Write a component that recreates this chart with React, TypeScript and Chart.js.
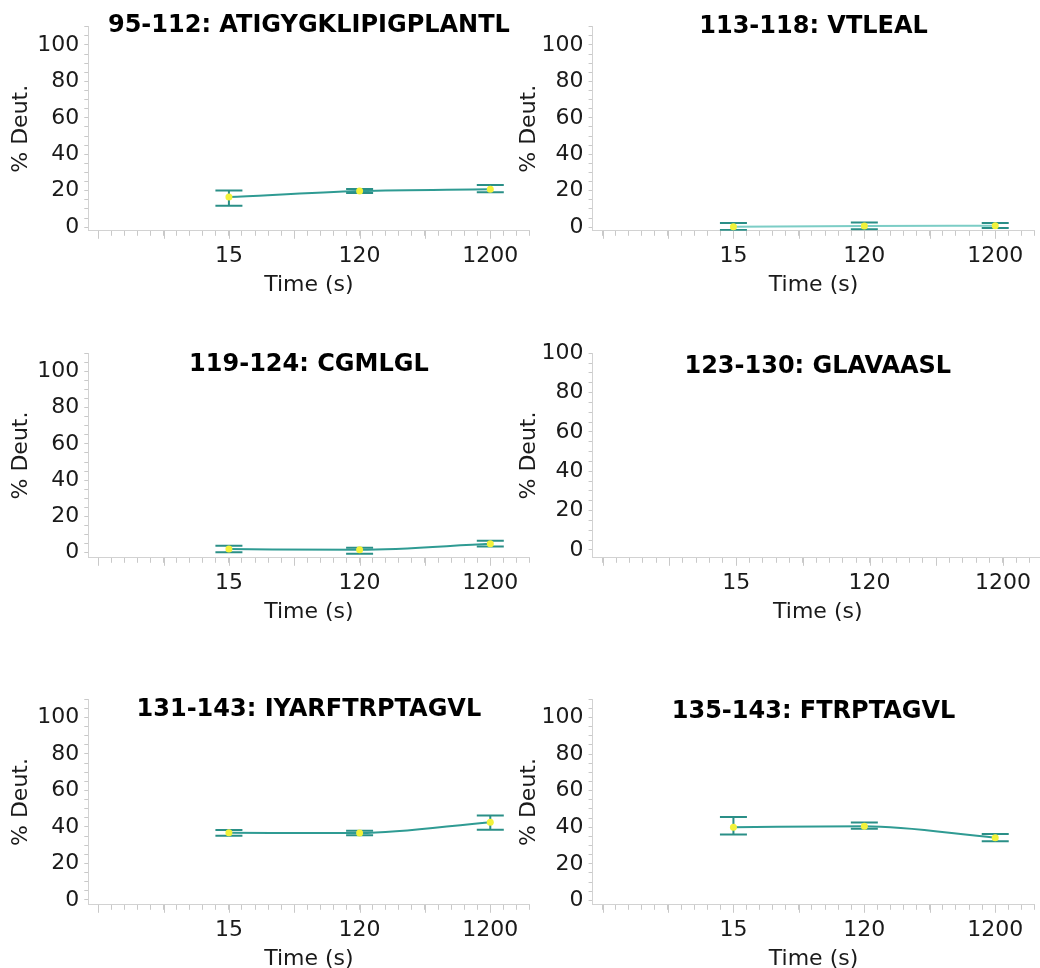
import React, { useEffect, useRef } from 'react';
import { Chart, registerables } from 'chart.js';

Chart.register(...registerables);

const FONT = 'DejaVu Sans';
const TEXT = '#1a1a1a';

// x categories (time points, evenly spaced)
const TIMES = ['15', '120', '1200'];
const Y_LABELS = [0, 20, 40, 60, 80, 100];

const TITLE_95_112 = '95-112: ATIGYGKLIPIGPLANTL';
const MEAN_95_112 = [16.5, 19.8, 20.8];
const LOW_95_112 = [11.8, 18.8, 19.2];
const HIGH_95_112 = [20.1, 21.0, 23.2];

const TITLE_113_118 = '113-118: VTLEAL';
const MEAN_113_118 = [0.2, 0.6, 0.8];
const LOW_113_118 = [-1.6, -1.1, -0.4];
const HIGH_113_118 = [2.3, 2.6, 2.3];

const TITLE_119_124 = '119-124: CGMLGL';
const MEAN_119_124 = [2.0, 1.6, 4.9];
const LOW_119_124 = [0.2, -0.5, 3.4];
const HIGH_119_124 = [3.8, 2.8, 6.6];

const TITLE_123_130 = '123-130: GLAVAASL';
const MEAN_123_130: number[] = [];
const LOW_123_130: number[] = [];
const HIGH_123_130: number[] = [];

const TITLE_131_143 = '131-143: IYARFTRPTAGVL';
const MEAN_131_143 = [36.8, 36.6, 42.6];
const LOW_131_143 = [35.2, 35.4, 38.5];
const HIGH_131_143 = [38.3, 37.9, 46.3];

const TITLE_135_143 = '135-143: FTRPTAGVL';
const MEAN_135_143 = [40.0, 40.5, 34.3];
const LOW_135_143 = [36.0, 39.2, 32.3];
const HIGH_135_143 = [45.6, 42.6, 36.3];

const PANELS = [
  { title: TITLE_95_112, mean: MEAN_95_112, low: LOW_95_112, high: HIGH_95_112 },
  { title: TITLE_113_118, mean: MEAN_113_118, low: LOW_113_118, high: HIGH_113_118 },
  { title: TITLE_119_124, mean: MEAN_119_124, low: LOW_119_124, high: HIGH_119_124 },
  { title: TITLE_123_130, mean: MEAN_123_130, low: LOW_123_130, high: HIGH_123_130 },
  { title: TITLE_131_143, mean: MEAN_131_143, low: LOW_131_143, high: HIGH_131_143 },
  { title: TITLE_135_143, mean: MEAN_135_143, low: LOW_135_143, high: HIGH_135_143 },
];

// layout of each panel (position / size / paddings / axis ranges)
const LAYOUT = [
  { left: 0, top: 0, w: 545, h: 298, tPad: [11.6, -13.7], yPad: [7.8, -1.9], yMin: -2, yMax: 110, line: '#2f9b93' },
  { left: 508, top: 0, w: 542, h: 298, tPad: [12.6, -14.7], yPad: [7.8, -5.6], yMin: -2, yMax: 110, line: '#7ccdc6' },
  { left: 0, top: 335, w: 545, h: 290, tPad: [15.6, -26.2], yPad: [7.8, -1.9], yMin: -2.8, yMax: 110, line: '#2f9b93' },
  { left: 508, top: 335, w: 542, h: 290, tPad: [17.3, -27.9], yPad: [7.8, -5.6], yMin: -4, yMax: 100, line: '#2f9b93' },
  { left: 0, top: 681, w: 545, h: 291, tPad: [14.6, -25.2], yPad: [7.8, -1.9], yMin: -2.7, yMax: 110, line: '#2f9b93' },
  { left: 508, top: 681, w: 542, h: 291, tPad: [16.3, -26.9], yPad: [7.8, -5.6], yMin: -2.4, yMax: 110, line: '#2f9b93' },
];

const BAR_COLOR = '#2a8f87';
const POINT_COLOR = '#f2f23a';
const TICK_COLOR = '#c9c9c9';

// draws the slightly longer tick marks at every half step of the x axis
const halfTicks = {
  id: 'halfTicks',
  afterDraw(chart: any) {
    const xs = chart.scales.x;
    if (!xs) return;
    const ctx = chart.ctx;
    ctx.save();
    ctx.strokeStyle = TICK_COLOR;
    ctx.lineWidth = 1;
    xs.ticks.forEach((t: any, i: number) => {
      const v = Number(t.value) * 2;
      if (Math.abs(v - Math.round(v)) > 1e-6) return;
      const px = Math.round(xs.getPixelForTick(i)) + 0.5;
      ctx.beginPath();
      ctx.moveTo(px, xs.top);
      ctx.lineTo(px, xs.top + 8);
      ctx.stroke();
    });
    ctx.restore();
  },
};

function Panel({ spec, lay }: { spec: any; lay: any }) {
  const ref = useRef<HTMLCanvasElement>(null);
  useEffect(() => {
    if (!ref.current) return;
    const datasets: any[] = [];
    if (spec.mean.length) {
      datasets.push({
        type: 'line',
        data: spec.mean.map((v: number, i: number) => ({ x: i, y: v })),
        borderColor: lay.line,
        borderWidth: 2,
        pointRadius: 3.5,
        pointBackgroundColor: POINT_COLOR,
        pointBorderWidth: 0,
        cubicInterpolationMode: 'monotone',
      });
      const stems: any[] = [];
      spec.low.forEach((lo: number, i: number) => {
        stems.push({ x: i, y: lo }, { x: i, y: spec.high[i] }, { x: i, y: null });
      });
      datasets.push({
        type: 'line',
        data: stems,
        borderColor: BAR_COLOR,
        borderWidth: 2,
        pointRadius: 0,
        spanGaps: false,
      });
      const caps = [
        ...spec.low.map((v: number, i: number) => ({ x: i, y: v })),
        ...spec.high.map((v: number, i: number) => ({ x: i, y: v })),
      ];
      datasets.push({
        type: 'scatter',
        data: caps,
        pointStyle: 'line',
        pointRadius: 13.5,
        pointBorderColor: BAR_COLOR,
        pointBorderWidth: 2,
        borderColor: BAR_COLOR,
        showLine: false,
      });
    }
    const chart = new Chart(ref.current, {
      type: 'line',
      data: { datasets },
      plugins: [halfTicks],
      options: {
        animation: false,
        responsive: false,
        maintainAspectRatio: false,
        events: [],
        layout: { padding: 0 },
        plugins: {
          legend: { display: false },
          tooltip: { enabled: false },
          title: {
            display: true,
            text: spec.title,
            fullSize: false,
            color: '#000',
            font: { family: FONT, size: 24, weight: 'bold' },
            padding: { top: lay.tPad[0], bottom: lay.tPad[1] },
          },
        },
        scales: {
          x: {
            type: 'linear',
            min: -1.076,
            max: 2.3,
            ticks: {
              stepSize: 0.1,
              includeBounds: false,
              autoSkip: false,
              maxRotation: 0,
              minRotation: 0,
              padding: 7,
              color: TEXT,
              font: { family: FONT, size: 22 },
              callback: (v: any) => {
                const n = Number(v);
                const i = Math.round(n);
                return Math.abs(n - i) < 1e-6 && i >= 0 && i < TIMES.length ? TIMES[i] : '';
              },
            },
            grid: { display: true, drawOnChartArea: false, drawTicks: true, tickLength: 5, tickColor: TICK_COLOR },
            border: { display: true, color: '#d2d2d2', width: 1 },
            title: {
              display: true,
              text: 'Time (s)',
              color: TEXT,
              font: { family: FONT, size: 22 },
              padding: { top: -4.6, bottom: 0 },
            },
          },
          y: {
            type: 'linear',
            min: lay.yMin,
            max: lay.yMax,
            ticks: {
              stepSize: 5,
              includeBounds: false,
              autoSkip: false,
              padding: 5,
              color: TEXT,
              font: { family: FONT, size: 22 },
              callback: (v: any) => {
                const n = Math.round(Number(v));
                return Y_LABELS.includes(n) && Math.abs(Number(v) - n) < 1e-6 ? String(n) : '';
              },
            },
            grid: { display: true, drawOnChartArea: false, drawTicks: true, tickLength: 4, tickColor: TICK_COLOR },
            border: { display: true, color: '#d2d2d2', width: 1 },
            title: {
              display: true,
              text: '% Deut.',
              color: TEXT,
              font: { family: FONT, size: 22 },
              padding: { top: lay.yPad[0], bottom: lay.yPad[1] },
            },
          },
        },
      } as any,
    });
    return () => chart.destroy();
  }, []);
  return (
    <div style={{ position: 'absolute', left: lay.left, top: lay.top, width: lay.w, height: lay.h }}>
      <canvas ref={ref} width={lay.w} height={lay.h} style={{ width: lay.w, height: lay.h, display: 'block' }} />
    </div>
  );
}

export default function App() {
  return (
    <div
      style={{
        position: 'absolute',
        left: 0,
        top: 0,
        width: 1040,
        height: 968,
        overflow: 'hidden',
        background: '#ffffff',
      }}
    >
      {PANELS.map((p, i) => (
        <Panel key={i} spec={p} lay={LAYOUT[i]} />
      ))}
    </div>
  );
}
